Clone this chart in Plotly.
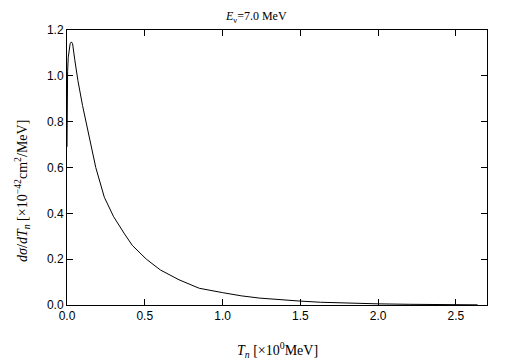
import plotly.graph_objects as go

# Data
T_n = [0.0, 0.0, 0.004, 0.008, 0.013, 0.02, 0.028, 0.036, 0.05, 0.07, 0.1, 0.125,
       0.15, 0.185, 0.24, 0.3, 0.37, 0.42, 0.51, 0.6, 0.72, 0.85, 1.0, 1.12, 1.24,
       1.37, 1.5, 1.63, 1.8, 2.0, 2.2, 2.4, 2.55, 2.64]
dsigma = [0.69, 0.93, 1.02, 1.08, 1.12, 1.14, 1.148, 1.14, 1.07, 0.98, 0.87, 0.79,
          0.70, 0.60, 0.47, 0.385, 0.31, 0.26, 0.20, 0.153, 0.11, 0.073, 0.054, 0.04,
          0.03, 0.022, 0.017, 0.012, 0.008, 0.005, 0.003, 0.002, 0.001, 0.0007]

x_ticks = [0.0, 0.5, 1.0, 1.5, 2.0, 2.5]
y_ticks = [0.0, 0.2, 0.4, 0.6, 0.8, 1.0, 1.2]

title_text = "<i>E</i><sub>ν</sub>=7.0 MeV"
x_title = "<i>T</i><sub><i>n</i></sub> [×10<sup>0</sup>MeV]"
y_title = "<i>dσ</i>/<i>dT</i><sub><i>n</i></sub> [×10<sup>−42</sup>cm<sup>2</sup>/MeV]"

fig = go.Figure()
fig.add_trace(go.Scatter(x=T_n, y=dsigma, mode="lines",
                         line=dict(color="black", width=1), showlegend=False))

serif = "Liberation Serif, Times New Roman, serif"
sans = "Liberation Sans, Arial, sans-serif"

axis_common = dict(showline=True, linecolor="black", linewidth=1, mirror="ticks",
                   ticks="inside", ticklen=6, tickcolor="black", tickwidth=1,
                   showgrid=False, zeroline=False,
                   tickfont=dict(family=sans, size=12, color="black"))

fig.update_xaxes(range=[0, 2.7], tickvals=x_ticks, tickformat=".1f", **axis_common)
fig.update_yaxes(range=[0, 1.2], tickvals=y_ticks, tickformat=".1f", **axis_common)

fig.update_layout(
    width=497, height=353,
    margin=dict(l=59, r=18, t=22, b=56),
    paper_bgcolor="white", plot_bgcolor="white",
    annotations=[
        dict(text=title_text, x=0.45, y=1, xref="paper", yref="paper",
             xanchor="center", yanchor="bottom", yshift=3, showarrow=False,
             font=dict(family=serif, size=12, color="black")),
        dict(text=x_title, x=0.5, y=0, xref="paper", yref="paper",
             xanchor="center", yanchor="top", yshift=-33, showarrow=False,
             font=dict(family=serif, size=14, color="black")),
        dict(text=y_title, x=0, y=0.415, xref="paper", yref="paper",
             xanchor="center", yanchor="middle", xshift=-45, textangle=-90,
             showarrow=False, font=dict(family=serif, size=14, color="black")),
    ],
)

fig.write_html("out.html")
